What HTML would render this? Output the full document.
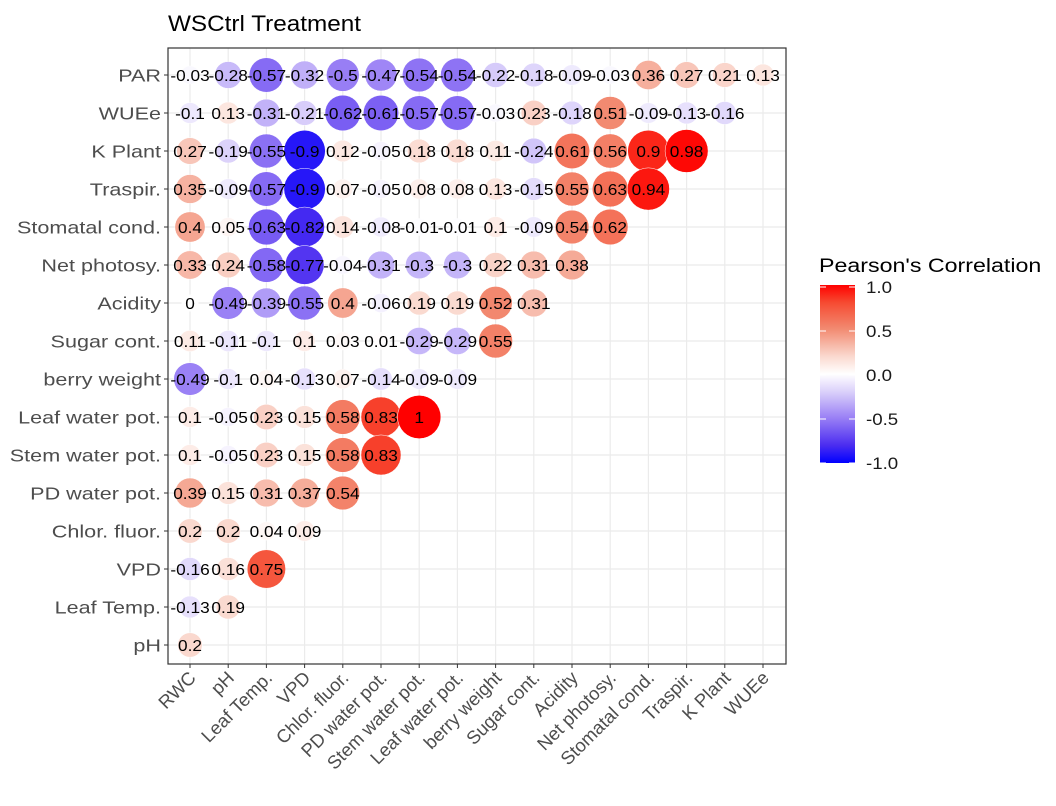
<!DOCTYPE html>
<html><head><meta charset="utf-8"><style>
body{margin:0;background:#fff;}
svg{display:block;font-family:"Liberation Sans",Arial,sans-serif;}
</style></head><body>
<svg id="chart" width="1056" height="806"></svg>
<script>
const xVars=["RWC","pH","Leaf Temp.","VPD","Chlor. fluor.","PD water pot.","Stem water pot.","Leaf water pot.","berry weight","Sugar cont.","Acidity","Net photosy.","Stomatal cond.","Traspir.","K Plant","WUEe"];
const yVars=["PAR","WUEe","K Plant","Traspir.","Stomatal cond.","Net photosy.","Acidity","Sugar cont.","berry weight","Leaf water pot.","Stem water pot.","PD water pot.","Chlor. fluor.","VPD","Leaf Temp.","pH"];
const rowPAR=[-0.03,-0.28,-0.57,-0.32,-0.5,-0.47,-0.54,-0.54,-0.22,-0.18,-0.09,-0.03,0.36,0.27,0.21,0.13];
const rowWUEe=[-0.1,0.13,-0.31,-0.21,-0.62,-0.61,-0.57,-0.57,-0.03,0.23,-0.18,0.51,-0.09,-0.13,-0.16];
const rowKPlant=[0.27,-0.19,-0.55,-0.9,0.12,-0.05,0.18,0.18,0.11,-0.24,0.61,0.56,0.9,0.98];
const rowTraspir=[0.35,-0.09,-0.57,-0.9,0.07,-0.05,0.08,0.08,0.13,-0.15,0.55,0.63,0.94];
const rowStomatal=[0.4,0.05,-0.63,-0.82,0.14,-0.08,-0.01,-0.01,0.1,-0.09,0.54,0.62];
const rowNetPhoto=[0.33,0.24,-0.58,-0.77,-0.04,-0.31,-0.3,-0.3,0.22,0.31,0.38];
const rowAcidity=[0,-0.49,-0.39,-0.55,0.4,-0.06,0.19,0.19,0.52,0.31];
const rowSugar=[0.11,-0.11,-0.1,0.1,0.03,0.01,-0.29,-0.29,0.55];
const rowBerry=[-0.49,-0.1,0.04,-0.13,0.07,-0.14,-0.09,-0.09];
const rowLeafWP=[0.1,-0.05,0.23,0.15,0.58,0.83,1];
const rowStemWP=[0.1,-0.05,0.23,0.15,0.58,0.83];
const rowPDWP=[0.39,0.15,0.31,0.37,0.54];
const rowChlor=[0.2,0.2,0.04,0.09];
const rowVPD=[-0.16,0.16,0.75];
const rowLeafTemp=[-0.13,0.19];
const rowPH=[0.2];
const legendTicks=[1.0,0.5,0.0,-0.5,-1.0];
const rows=[rowPAR,rowWUEe,rowKPlant,rowTraspir,rowStomatal,rowNetPhoto,rowAcidity,rowSugar,rowBerry,rowLeafWP,rowStemWP,rowPDWP,rowChlor,rowVPD,rowLeafTemp,rowPH];

const NS="http://www.w3.org/2000/svg";
const svg=document.getElementById('chart');
function mk(tag,attrs,parent){const e=document.createElementNS(NS,tag);for(const k in attrs)e.setAttribute(k,attrs[k]);(parent||svg).appendChild(e);return e;}
const P={l:168,r:786,t:48,b:664};
const xs=i=>190+i*38.2;
const ys=j=>75+j*38;
const stops=[[-1,[0,0,255]],[-0.8,[75,45,240]],[-0.5,[152,126,245]],[-0.2,[218,208,250]],[0,[255,255,255]],[0.2,[250,216,206]],[0.5,[242,140,115]],[0.8,[246,75,50]],[1,[255,0,0]]];
function col(v){for(let i=0;i<stops.length-1;i++){const[a,ca]=stops[i],[b,cb]=stops[i+1];if(v<=b){const t=(v-a)/(b-a);return 'rgb('+ca.map((c,k)=>Math.round(c+(cb[k]-c)*t)).join(',')+')';}}return 'rgb(255,0,0)';}
const rad=v=>Math.sqrt(276+1605*Math.abs(v))/2;

let t=mk('text',{x:0,y:0,'font-size':22.5,fill:'#000',transform:`translate(168,31) scale(1.08,1)`});t.textContent='WSCtrl Treatment';



mk('rect',{x:P.l,y:P.t,width:P.r-P.l,height:P.b-P.t,fill:'#fff'});
const grid=mk('g',{stroke:'#ebebeb','stroke-width':1.2});


xVars.forEach((v,i)=>mk('line',{x1:xs(i),x2:xs(i),y1:P.t,y2:P.b},grid));
yVars.forEach((v,j)=>mk('line',{x1:P.l,x2:P.r,y1:ys(j),y2:ys(j)},grid));

const marks=mk('g',{});


rows.forEach((row,j)=>row.forEach((v,i)=>{
  const c=mk('circle',{cx:xs(i),cy:ys(j),r:rad(v),fill:col(v),stroke:'#fff','stroke-width':0.5},marks);
  
  
}));
rows.forEach((row,j)=>row.forEach((v,i)=>{
  const tx=mk('text',{x:0,y:0,'font-size':16,'text-anchor':'middle',fill:'#000',transform:`translate(${xs(i)},${ys(j)+6}) scale(1.08,1)`},marks);
  tx.textContent=String(v);
  
  
}));
mk('rect',{x:P.l,y:P.t,width:P.r-P.l,height:P.b-P.t,fill:'none',stroke:'#333','stroke-width':1.2});

yVars.forEach((v,j)=>{
  mk('line',{x1:P.l-4,x2:P.l,y1:ys(j),y2:ys(j),stroke:'#333'});
  const tx=mk('text',{x:0,y:0,'font-size':18,'text-anchor':'end',fill:'#4d4d4d',transform:`translate(${P.l-7},${ys(j)+6.5}) scale(1.2,1)`});
  tx.textContent=v;
  
  
});
xVars.forEach((v,i)=>{
  mk('line',{x1:xs(i),x2:xs(i),y1:P.b,y2:P.b+4,stroke:'#333'});
  const tx=mk('text',{x:0,y:0,'font-size':18.5,'text-anchor':'end',fill:'#4d4d4d',transform:`translate(${xs(i)+7},${P.b+15}) rotate(-45)`});
  tx.textContent=v;
  
  
});

const lg=mk('g',{});


const lt=mk('text',{x:0,y:0,'font-size':19.5,fill:'#000',transform:`translate(819,272) scale(1.19,1)`},lg);lt.textContent="Pearson's Correlation";
const defs=mk('defs',{});
const gr=mk('linearGradient',{id:'lgrad',x1:0,y1:0,x2:0,y2:1},defs);
for(let k=0;k<=20;k++){const v=1-k/10;mk('stop',{offset:(k/20),'stop-color':col(v)},gr);}
const lb=mk('rect',{x:820,y:285,width:35,height:178,fill:'url(#lgrad)'},lg);


const ly=v=>287+(1-v)/2*176;
legendTicks.forEach(v=>{
  mk('line',{x1:820,x2:826,y1:ly(v),y2:ly(v),stroke:'#fff'},lg);
  mk('line',{x1:849,x2:855,y1:ly(v),y2:ly(v),stroke:'#fff'},lg);
  const tx=mk('text',{x:0,y:0,'font-size':17,fill:'#1a1a1a',transform:`translate(866,${ly(v)+6}) scale(1.1,1)`},lg);
  tx.textContent=v.toFixed(1);
  
  
});
</script>
</body></html>
